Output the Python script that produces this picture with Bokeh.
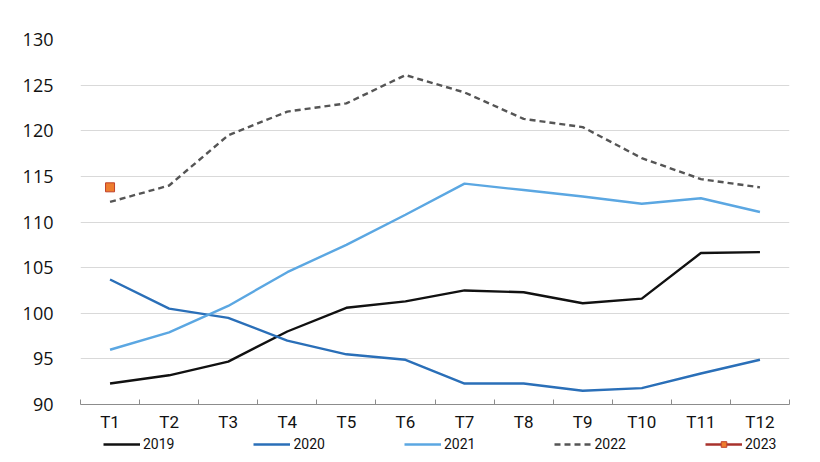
from bokeh.plotting import figure
from bokeh.layouts import column
from bokeh.models import Legend, LegendItem, FixedTicker, Range1d
from bokeh.embed import file_html
from bokeh.resources import INLINE

categories = ["T1", "T2", "T3", "T4", "T5", "T6", "T7", "T8", "T9", "T10", "T11", "T12"]
y2019 = [92.3, 93.2, 94.7, 98.0, 100.6, 101.3, 102.5, 102.3, 101.1, 101.6, 106.6, 106.7]
y2020 = [103.7, 100.5, 99.5, 97.0, 95.5, 94.9, 92.3, 92.3, 91.5, 91.8, 93.4, 94.9]
y2021 = [96.0, 97.9, 100.8, 104.5, 107.5, 110.8, 114.2, 113.5, 112.8, 112.0, 112.6, 111.1]
y2022 = [112.2, 114.0, 119.5, 122.1, 123.0, 126.1, 124.2, 121.3, 120.4, 117.0, 114.7, 113.8]
y2023 = [113.8]
series_names = ["2019", "2020", "2021", "2022", "2023"]

xs = list(range(1, len(categories) + 1))
NAN = [float("nan")]

styles = [
    dict(line_color="#111111", line_width=2.4),
    dict(line_color="#2a6fb8", line_width=2.4),
    dict(line_color="#5ba7e2", line_width=2.4),
    dict(line_color="#555555", line_width=2.4, line_dash="6 4"),
]
marker_style = dict(marker="square", size=9, fill_color="#ee7d2e", line_color="#c0402a", line_width=1)
line23 = dict(line_color="#a8322d", line_width=2.4)

p = figure(width=812, height=434, output_backend="svg", toolbar_location=None,
           x_range=Range1d(0.5, 12.5), y_range=Range1d(90, 130),
           min_border_left=79, min_border_right=23, min_border_top=39, min_border_bottom=26)
p.outline_line_color = None
p.background_fill_color = "white"
p.border_fill_color = "white"

for ys, st in zip([y2019, y2020, y2021, y2022], styles):
    p.line(xs, ys, **st)
p.scatter(xs[:1], y2023, **marker_style)

# axes
p.yaxis.ticker = FixedTicker(ticks=[90, 95, 100, 105, 110, 115, 120, 125, 130])
p.yaxis.axis_line_color = None
p.yaxis.major_tick_line_color = None
p.yaxis.minor_tick_line_color = None
p.yaxis.major_label_standoff = 21
p.yaxis.major_label_text_font = "Open Sans"
p.yaxis.major_label_text_font_size = "18px"
p.yaxis.major_label_text_color = "#111111"

p.xaxis.ticker = FixedTicker(ticks=xs, minor_ticks=[x - 0.5 for x in xs] + [xs[-1] + 0.5])
p.xaxis.major_label_overrides = {x: c for x, c in zip(xs, categories)}
p.xaxis.axis_line_color = "#8c8c8c"
p.xaxis.axis_line_width = 1.2
p.xaxis.major_tick_line_color = None
p.xaxis.minor_tick_line_color = "#8c8c8c"
p.xaxis.minor_tick_in = 5
p.xaxis.minor_tick_out = 0
p.xaxis.major_label_standoff = 1
p.xaxis.major_label_text_font = "Roboto"
p.xaxis.major_label_text_font_size = "17px"
p.xaxis.major_label_text_color = "#111111"

p.xgrid.grid_line_color = None
p.ygrid.grid_line_color = "#d9d9d9"
p.ygrid.grid_line_width = 1

# legend strip (separate small figure with legend-only renderers)
lf = figure(width=812, height=28, output_backend="svg", toolbar_location=None,
            x_axis_type=None, y_axis_type=None, x_range=Range1d(0, 1), y_range=Range1d(0, 1),
            min_border_left=80, min_border_right=20, min_border_top=0, min_border_bottom=0)
lf.outline_line_color = None
lf.xgrid.grid_line_color = None
lf.ygrid.grid_line_color = None
lrs = [lf.line(NAN, NAN, **st) for st in styles]
l23a = lf.line(NAN, NAN, **line23)
l23b = lf.scatter(NAN, NAN, **marker_style)
items = [LegendItem(label=n, renderers=[r]) for n, r in zip(series_names[:4], lrs)]
items.append(LegendItem(label=series_names[4], renderers=[l23a, l23b]))

legend = Legend(items=items, orientation="horizontal", location=(23, 10))
legend.border_line_color = None
legend.background_fill_alpha = 0
legend.glyph_width = 37
legend.glyph_height = 14
legend.label_standoff = 3
legend.spacing = 79
legend.padding = 0
legend.margin = 0
legend.label_text_font = "Roboto"
legend.label_text_font_size = "14px"
legend.label_text_color = "#111111"
legend.label_height = 14
lf.add_layout(legend, "center")

layout = column(p, lf, spacing=0)
open("out.html", "w").write(file_html(layout, INLINE))
